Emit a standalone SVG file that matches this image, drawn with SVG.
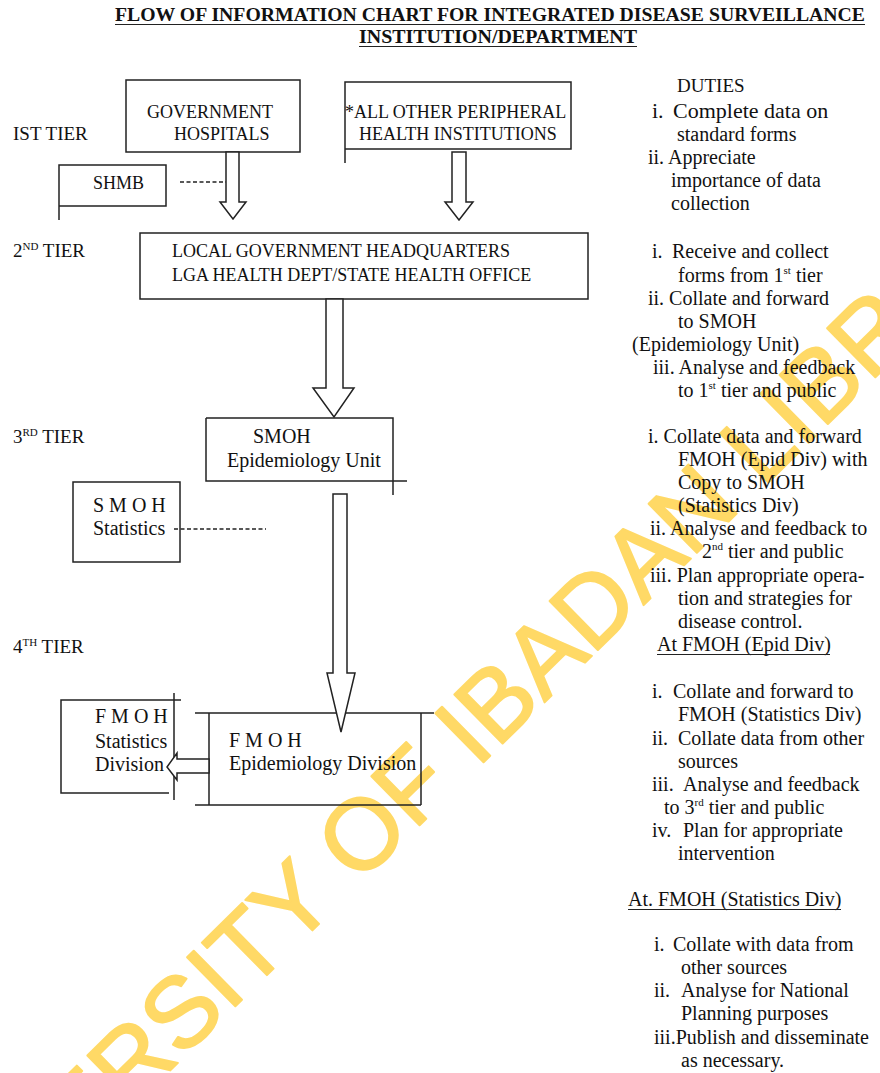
<svg xmlns="http://www.w3.org/2000/svg" width="880" height="1073" viewBox="0 0 880 1073">
<style>
.t{font-family:"Liberation Serif","Times New Roman",serif;font-size:20px;fill:#111}
.s18{font-size:18px}
.s19{font-size:19px}
.ttl{font-family:"Liberation Serif","Times New Roman",serif;font-size:19.5px;font-weight:bold;fill:#111}
.sup{font-size:11px}
.box{fill:none;stroke:#222;stroke-width:1.5}
.ln{fill:none;stroke:#222;stroke-width:1.5}
.ul{stroke:#222;stroke-width:1.2}
.arrow{fill:#fff;stroke:#222;stroke-width:1.5;stroke-linejoin:miter}
.dash{stroke:#222;stroke-width:1.3;stroke-dasharray:4 2.5}
.wm{font-family:"Liberation Sans",Arial,sans-serif;font-size:100px;fill:#FFD966;stroke:#FFD966;stroke-width:2;stroke-linejoin:round}
</style>
<rect width="880" height="1073" fill="#fff"/>
<g id="watermark">
<text class="wm" x="489" y="757" text-anchor="middle" transform="rotate(-44.5 489 757)">UNIVERSITY OF IBADAN LIBRARY</text>
</g>
<g id="title">
<text class="ttl" x="115" y="21" textLength="750" lengthAdjust="spacingAndGlyphs">FLOW OF INFORMATION CHART FOR INTEGRATED DISEASE SURVEILLANCE</text>
<line class="ul" x1="115" y1="24.5" x2="865" y2="24.5"/>
<text class="ttl" x="359" y="43" textLength="278" lengthAdjust="spacingAndGlyphs">INSTITUTION/DEPARTMENT</text>
<line class="ul" x1="359" y1="46.5" x2="637" y2="46.5"/>
</g>
<g id="tier-labels">
<text class="t s19" x="13" y="140">IST TIER</text>
<text class="t s19" x="13" y="257">2<tspan class="sup" dy="-7">ND</tspan><tspan dy="7"> TIER</tspan></text>
<text class="t s19" x="13" y="443">3<tspan class="sup" dy="-7">RD</tspan><tspan dy="7"> TIER</tspan></text>
<text class="t s19" x="13" y="653">4<tspan class="sup" dy="-7">TH</tspan><tspan dy="7"> TIER</tspan></text>
</g>
<g id="node-gov-hospitals">
<rect class="box" x="126" y="80" width="174" height="72"/>
<text class="t s18" x="147" y="118">GOVERNMENT</text>
<text class="t s18" x="174" y="140">HOSPITALS</text>
</g>
<g id="node-peripheral">
<path class="ln" d="M345,163 V82 H571 V149 H345"/>
<text class="t s18" x="345" y="118">*ALL OTHER PERIPHERAL</text>
<text class="t s18" x="359" y="140">HEALTH INSTITUTIONS</text>
</g>
<g id="node-shmb">
<path class="ln" d="M59,220 V165 H166 V206 H59"/>
<text class="t s18" x="93" y="189">SHMB</text>
</g>
<g id="node-lga">
<rect class="box" x="140" y="233" width="448" height="66"/>
<text class="t s18" x="172" y="257">LOCAL GOVERNMENT HEADQUARTERS</text>
<text class="t s18" x="172" y="281">LGA HEALTH DEPT/STATE HEALTH OFFICE</text>
</g>
<g id="node-smoh-epid">
<path class="ln" d="M206,418 H393 V495 M407,481 H206 V418"/>
<text class="t" x="253" y="443">SMOH</text>
<text class="t" x="227" y="467">Epidemiology Unit</text>
</g>
<g id="node-smoh-stats">
<rect class="box" x="73" y="482" width="107" height="80"/>
<text class="t" x="93" y="512">S M O H</text>
<text class="t" x="93" y="535">Statistics</text>
</g>
<g id="node-fmoh-stats">
<path class="ln" d="M181,700 H61 V793 H169 M174,693 V800"/>
<text class="t" x="95" y="723">F M O H</text>
<text class="t" x="95" y="748">Statistics</text>
<text class="t" x="95" y="771">Division</text>
</g>
<g id="node-fmoh-epid">
<path class="ln" d="M195,713 H434 M209,713 V805 M421,713 V805 M195,805 H421"/>
<text class="t" x="229" y="747">F M O H</text>
<text class="t" x="229" y="770">Epidemiology Division</text>
</g>
<g id="connectors">
<polygon class="arrow" points="226,152 239,152 239,202 246,202 233,219 220,202 226,202"/>
<polygon class="arrow" points="452,152 466,152 466,202 473,202 459,220 445,202 452,202"/>
<polygon class="arrow" points="326,299 343,299 343,388 354,388 334,417 313,388 326,388"/>
<polygon class="arrow" points="333,494 347,494 347,673 355,673 341,732 327,673 333,673"/>
<polygon class="arrow" points="209,759 209,773 177,773 177,780 167,767 177,753 177,759"/>
<line class="dash" x1="180" y1="182" x2="226" y2="182"/>
<line class="dash" x1="174" y1="529" x2="266" y2="529"/>
</g>
<g id="duties">
<text class="t s19" x="677" y="92">DUTIES</text>
<text class="t" x="652" y="118" style="font-size:22px">i.<tspan x="673">Complete data on</tspan></text>
<text class="t" x="677" y="141">standard forms</text>
<text class="t" x="648" y="164">ii. Appreciate</text>
<text class="t" x="671" y="187">importance of data</text>
<text class="t" x="671" y="210">collection</text>

<text class="t" x="652" y="258">i.<tspan x="672">Receive and collect</tspan></text>
<text class="t" x="678" y="282">forms from 1<tspan class="sup" dy="-8">st</tspan><tspan dy="8"> tier</tspan></text>
<text class="t" x="648" y="305">ii. Collate and forward</text>
<text class="t" x="678" y="328">to SMOH</text>
<text class="t" x="632" y="351">(Epidemiology Unit)</text>
<text class="t" x="653" y="374">iii. Analyse and feedback</text>
<text class="t" x="678" y="397">to 1<tspan class="sup" dy="-8">st</tspan><tspan dy="8"> tier and public</tspan></text>

<text class="t" x="648" y="443">i. Collate data and forward</text>
<text class="t" x="678" y="466">FMOH (Epid Div) with</text>
<text class="t" x="678" y="489">Copy to SMOH</text>
<text class="t" x="678" y="512">(Statistics Div)</text>
<text class="t" x="650" y="535">ii. Analyse and feedback to</text>
<text class="t" x="702" y="558">2<tspan class="sup" dy="-8">nd</tspan><tspan dy="8"> tier and public</tspan></text>
<text class="t" x="650" y="582">iii. Plan appropriate opera-</text>
<text class="t" x="678" y="605">tion and strategies for</text>
<text class="t" x="678" y="628">disease control.</text>
<text class="t" x="657" y="651">At FMOH (Epid Div)</text>
<line class="ul" x1="657" y1="654.5" x2="830" y2="654.5"/>

<text class="t" x="652" y="698">i.<tspan x="673">Collate and forward to</tspan></text>
<text class="t" x="678" y="721">FMOH (Statistics Div)</text>
<text class="t" x="652" y="745">ii.<tspan x="678">Collate data from other</tspan></text>
<text class="t" x="678" y="768">sources</text>
<text class="t" x="652" y="791">iii.<tspan x="683">Analyse and feedback</tspan></text>
<text class="t" x="664" y="814">to 3<tspan class="sup" dy="-8">rd</tspan><tspan dy="8"> tier and public</tspan></text>
<text class="t" x="652" y="837">iv.<tspan x="683">Plan for appropriate</tspan></text>
<text class="t" x="678" y="860">intervention</text>

<text class="t" x="628" y="906">At. FMOH (Statistics Div)</text>
<line class="ul" x1="628" y1="909.5" x2="841" y2="909.5"/>
<text class="t" x="654" y="951">i.<tspan x="673">Collate with data from</tspan></text>
<text class="t" x="681" y="974">other sources</text>
<text class="t" x="654" y="997">ii.<tspan x="681">Analyse for National</tspan></text>
<text class="t" x="681" y="1020">Planning purposes</text>
<text class="t" x="654" y="1044">iii.Publish and disseminate</text>
<text class="t" x="681" y="1067">as necessary.</text>
</g>
</svg>
